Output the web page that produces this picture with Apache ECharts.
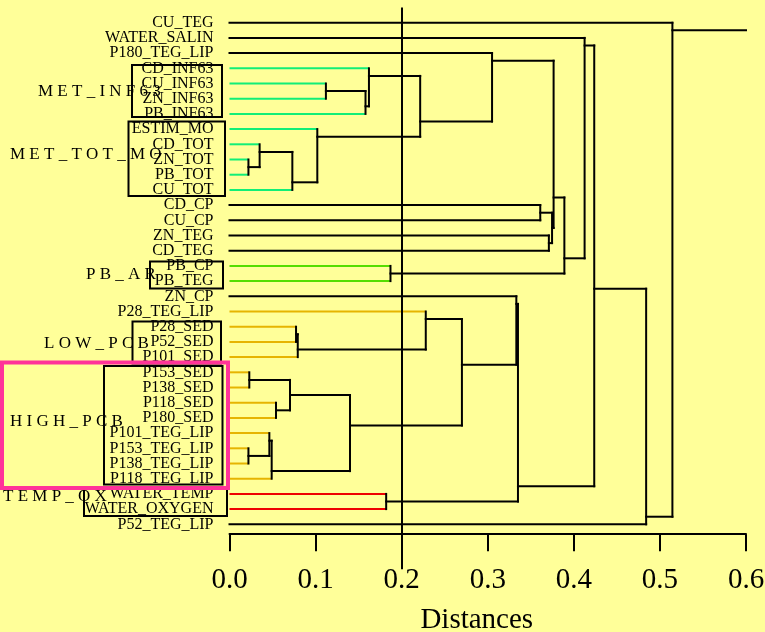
<!DOCTYPE html>
<html>
<head>
<meta charset="utf-8">
<script src="https://cdn.jsdelivr.net/npm/echarts@6/dist/echarts.min.js"></script>
<style>
  html, body { margin: 0; padding: 0; background: #ffff99; }
  #chart { width: 765px; height: 632px; }
</style>
</head>
<body>
<div id="chart"></div>
<script>
// leaves, top to bottom
const leaves = [
  'CU_TEG', 'WATER_SALIN', 'P180_TEG_LIP', 'CD_INF63', 'CU_INF63', 'ZN_INF63', 'PB_INF63',
  'ESTIM_MO', 'CD_TOT', 'ZN_TOT', 'PB_TOT', 'CU_TOT', 'CD_CP', 'CU_CP', 'ZN_TEG', 'CD_TEG',
  'PB_CP', 'PB_TEG', 'ZN_CP', 'P28_TEG_LIP', 'P28_SED', 'P52_SED', 'P101_SED', 'P153_SED',
  'P138_SED', 'P118_SED', 'P180_SED', 'P101_TEG_LIP', 'P153_TEG_LIP', 'P138_TEG_LIP',
  'P118_TEG_LIP', 'WATER_TEMP', 'WATER_OXYGEN', 'P52_TEG_LIP'
];
// colour key of each leaf branch: k black, g green, l lime, o orange, r red
const leafKey = [
  'k', 'k', 'k', 'g', 'g', 'g', 'g',
  'g', 'g', 'g', 'g', 'g', 'k', 'k', 'k', 'k',
  'l', 'l', 'k', 'o', 'o', 'o', 'o', 'o',
  'o', 'o', 'o', 'o', 'o', 'o',
  'o', 'r', 'r', 'k'
];

// merges: upper child, lower child, distance ('mN' = result of merge N)
const mergeUpper = [
  'CU_INF63', 'm0', 'CD_INF63', 'ZN_TOT', 'CD_TOT', 'm4', 'ESTIM_MO', 'm2', 'P180_TEG_LIP',
  'CD_CP', 'ZN_TEG', 'm9', 'm8', 'PB_CP', 'm12', 'WATER_SALIN',
  'P28_SED', 'm16', 'P28_TEG_LIP', 'P153_SED', 'P118_SED', 'm19', 'P153_TEG_LIP',
  'P101_TEG_LIP', 'm23', 'm21', 'm18', 'ZN_CP', 'WATER_TEMP', 'm27', 'm15', 'm30', 'CU_TEG'
];
const mergeLower = [
  'ZN_INF63', 'PB_INF63', 'm1', 'PB_TOT', 'm3', 'CU_TOT', 'm5', 'm6', 'm7',
  'CU_CP', 'CD_TEG', 'm10', 'm11', 'PB_TEG', 'm13', 'm14',
  'P52_SED', 'P101_SED', 'm17', 'P138_SED', 'P180_SED', 'm20', 'P138_TEG_LIP',
  'm22', 'P118_TEG_LIP', 'm24', 'm25', 'm26', 'WATER_OXYGEN', 'm28', 'm29', 'P52_TEG_LIP', 'm31'
];
const mergeDist = [
  0.112, 0.158, 0.162, 0.022, 0.035, 0.073, 0.102, 0.2215, 0.305,
  0.361, 0.371, 0.3747, 0.3765, 0.187, 0.389, 0.4125,
  0.0773, 0.0793, 0.228, 0.023, 0.054, 0.0703, 0.022,
  0.0463, 0.049, 0.14, 0.27, 0.3332, 0.182, 0.3351, 0.4237, 0.484, 0.5145
];

const groupNames = ['MET_INF63', 'MET_TOT_MO', 'PB_AR', 'LOW_PCB', 'HIGH_PCB', 'TEMP_OX'];

const X_MAX = 0.6;
const colors = { k: '#000000', g: '#11ee77', l: '#55dd00', o: '#e6b400', r: '#ee0000' };

// build segments of the tree; leaf i sits on row i + 1
const row = {}, last = {}, dist = {}, key = {};
leaves.forEach((n, i) => { row[n] = i + 1; last[n] = i + 1; dist[n] = 0; key[n] = leafKey[i]; });
const segs = [];
mergeUpper.forEach((a, k) => {
  const b = mergeLower[k];
  const id = 'm' + k;
  const h = mergeDist[k];
  // the link leaves from the gap just below the upper branch
  row[id] = last[a] + 0.5;
  last[id] = Math.max(last[a], last[b]);
  dist[id] = h;
  key[id] = 'k';
  segs.push([dist[a], row[a], h, row[a], key[a]]);
  segs.push([dist[b], row[b], h, row[b], key[b]]);
  segs.push([h, row[a], h, row[b], 'k']);
});
const root = 'm' + (mergeUpper.length - 1);
segs.push([dist[root], row[root], X_MAX, row[root], 'k']);

const chart = echarts.init(document.getElementById('chart'));

const serif = 'Liberation Serif';
const spaced = s => s.split('').join(' ');

// annotation boxes (pixels)
const boxes = [
  [132, 65, 90, 52], [128.5, 121.5, 96.5, 74.5], [150, 261.5, 73, 27],
  [132.5, 321.5, 88.5, 42], [104, 366, 118.5, 118.5], [84, 487.5, 143, 28.5]
];
const labelPos = [[38, 92], [10, 155], [86, 275], [44, 344], [10, 422], [3, 497]];

chart.setOption({
  backgroundColor: '#ffff99',
  animation: false,
  grid: { left: 229.5, right: 19, top: 7.5, bottom: 97.8, outerBoundsMode: 'none', containLabel: false },
  xAxis: [{
    type: 'value',
    min: 0,
    max: X_MAX,
    interval: 0.1,
    splitLine: { show: false },
    axisLine: { onZero: false, lineStyle: { color: '#000', width: 2 } },
    axisTick: { length: 17, lineStyle: { color: '#000', width: 2 } },
    axisLabel: {
      margin: 32,
      color: '#000',
      fontFamily: serif,
      fontSize: 29,
      formatter: v => v.toFixed(1)
    },
    name: 'Distances',
    nameLocation: 'middle',
    nameGap: 72,
    nameTextStyle: { color: '#000', fontFamily: serif, fontSize: 29, padding: [0, 22, 0, 0] }
  }, {
    type: 'value',
    min: 0,
    max: X_MAX,
    position: 'bottom',
    splitLine: { show: false },
    axisLine: { show: false, onZero: false },
    axisLabel: { show: false },
    axisTick: { length: 35, customValues: [0.2], lineStyle: { color: '#000', width: 2 } }
  }],
  yAxis: {
    type: 'value',
    inverse: true,
    min: 0,
    max: 34.65,
    splitLine: { show: false },
    axisLine: { show: false, onZero: false },
    axisTick: { show: false },
    axisLabel: { show: false }
  },
  series: [{
    type: 'custom',
    coordinateSystem: 'cartesian2d',
    encode: { x: [0, 2], y: [1, 3] },
    data: segs.map(s => s.slice(0, 4)),
    renderItem: (params, api) => {
      const p1 = api.coord([api.value(0), api.value(1)]);
      const p2 = api.coord([api.value(2), api.value(3)]);
      const c = segs[params.dataIndex][4];
      return {
        type: 'line',
        shape: { x1: p1[0], y1: p1[1], x2: p2[0], y2: p2[1] },
        style: { stroke: colors[c], lineWidth: 2, lineCap: c === 'k' ? 'square' : 'butt' }
      };
    },
    markLine: {
      silent: true,
      symbol: 'none',
      label: { show: false },
      lineStyle: { color: '#000', width: 2, type: 'solid' },
      data: [{ xAxis: 0.2 }]
    }
  }, {
    // leaf names, right aligned against the tree
    type: 'custom',
    coordinateSystem: 'cartesian2d',
    clip: false,
    data: leaves.map((n, i) => [0, i + 1]),
    renderItem: (params, api) => {
      const p = api.coord([api.value(0), api.value(1)]);
      return {
        type: 'text',
        x: p[0] - 16,
        y: p[1],
        style: {
          text: leaves[params.dataIndex],
          fontFamily: serif,
          fontSize: 16,
          fill: '#000',
          align: 'right',
          verticalAlign: 'middle'
        }
      };
    }
  }],
  graphic: [
    ...groupNames.map((g, i) => ({
      type: 'text',
      z: 90,
      x: labelPos[i][0],
      y: labelPos[i][1],
      style: {
        text: spaced(g),
        fontFamily: serif,
        fontSize: 17,
        fill: '#000',
        verticalAlign: 'middle'
      }
    })),
    ...boxes.map(b => ({
      type: 'rect',
      z: 100,
      shape: { x: b[0], y: b[1], width: b[2], height: b[3] },
      style: { fill: null, stroke: '#000', lineWidth: 2 }
    })),
    {
      type: 'rect',
      z: 110,
      shape: { x: 2, y: 362.5, width: 226, height: 125.5 },
      style: { fill: null, stroke: '#ff3399', lineWidth: 4 }
    }
  ]
});
</script>
</body>
</html>
